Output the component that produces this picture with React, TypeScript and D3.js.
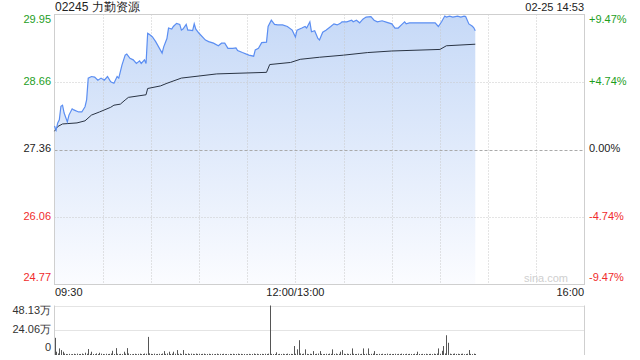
import React from "react";
import * as d3 from "d3";

// ---- data (minute index from 09:30, trading minutes; 12:00/13:00 = 150) ----
const title = "02245 力勤资源";
const stamp = "02-25 14:53";
const prevClose = 27.36;
const priceTicks = [29.95, 28.66, 27.36, 26.06, 24.77];
const pctTicks = ["+9.47%", "+4.74%", "0.00%", "-4.74%", "-9.47%"];
const timeTicks = ["09:30", "12:00/13:00", "16:00"];
const volTicks = ["48.13万", "24.06万", "0"];
const volTickValues = [48.13, 24.06, 0];

const priceMin = [0,1,2,3,4,5,6,8,9,11,12,15,17,19,20,21,23,25,27,29,31,33,35,37,39,40,42,44,45,47,49,51,53,54,56,57,58,59,61,63,67,68,70,71,73,74,76,78,79,80,82,83,84,86,87,88,90,94,96,99,102,104,106,108,111,113,114,117,121,124,125,127,129,132,133,135,137,139,142,145,148,150,151,154,156,157,159,160,162,164,165,167,169,172,174,176,178,179,182,185,186,188,190,192,194,197,199,201,204,207,210,212,214,216,218,219,221,228,237,239,241,243,244,246,248,251,253,255,256,258,260,261,262];
const prices = [27.81,27.73,27.87,27.93,28.19,28.21,28.06,27.89,28.02,28.14,28.12,28.08,28.08,28.18,28.31,28.73,28.76,28.75,28.69,28.73,28.69,28.76,28.66,28.63,28.76,28.73,28.98,29.17,29.19,29.11,29.08,29.01,29.06,29.01,29.08,29.01,29.59,29.57,29.52,29.43,29.21,29.33,29.49,29.69,29.67,29.72,29.78,29.76,29.65,29.67,29.76,29.65,29.65,29.64,29.77,29.67,29.59,29.46,29.43,29.40,29.35,29.40,29.40,29.30,29.30,29.31,29.26,29.22,29.17,29.15,29.27,29.30,29.41,29.42,29.72,29.84,29.76,29.75,29.75,29.72,29.65,29.52,29.65,29.69,29.72,29.69,29.81,29.62,29.64,29.49,29.46,29.61,29.65,29.72,29.77,29.75,29.78,29.81,29.81,29.84,29.81,29.84,29.79,29.86,29.90,29.91,29.84,29.81,29.83,29.80,29.77,29.69,29.69,29.75,29.81,29.77,29.79,29.79,29.79,29.72,29.81,29.92,29.90,29.92,29.90,29.92,29.90,29.92,29.91,29.77,29.73,29.70,29.64];

const avgMin = [0,2,5,14,19,23,28,35,37,41,44,46,57,58,66,70,79,90,101,132,134,147,153,165,180,195,210,240,244,262];
const avgPrices = [27.71,27.80,27.85,27.87,27.91,28.02,28.08,28.17,28.21,28.23,28.31,28.36,28.41,28.53,28.58,28.63,28.73,28.77,28.81,28.84,28.99,29.03,29.09,29.13,29.17,29.22,29.25,29.28,29.35,29.38];

const volumes = [
  16.7,3.2,1.5,6.4,4.8,3.2,1.4,1.0,0.8,1.1,
  0.7,0.9,1.2,0.8,1.3,0.9,1.0,1.4,0.8,2.2,
  1.2,5.8,1.1,3.2,1.0,0.8,1.5,0.9,2.2,1.3,
  1.0,0.7,1.2,0.9,1.1,1.4,4.1,1.0,6.7,1.2,
  0.8,1.1,0.9,3.2,1.3,6.7,1.5,0.9,0.7,1.0,
  1.2,0.8,1.1,1.3,0.9,1.0,1.4,1.2,17.6,1.6,
  1.1,0.9,1.3,0.8,1.0,1.2,0.9,1.4,3.8,1.1,
  1.5,3.2,1.0,1.3,3.2,1.2,4.8,1.1,1.4,0.9,
  4.8,1.2,1.0,1.5,0.9,1.3,1.1,0.8,1.4,1.0,
  1.2,0.9,1.1,1.3,0.8,1.0,1.2,0.9,1.1,0.7,
  1.0,1.3,0.8,1.1,0.9,1.2,0.8,1.0,0.7,1.1,
  0.9,1.2,0.8,1.0,1.3,0.9,1.1,0.8,1.0,0.7,
  0.9,1.1,0.8,1.0,1.4,0.9,1.2,0.8,1.0,1.1,
  0.9,1.2,1.0,1.3,48.13,1.1,0.9,1.0,2.6,0.8,
  1.1,0.9,1.2,0.8,1.0,1.3,0.9,1.1,1.0,8.7,
  1.2,5.5,14.4,1.5,1.0,1.3,5.5,1.1,0.9,1.2,
  1.0,3.8,0.9,1.2,1.4,3.8,1.1,0.8,1.0,1.2,
  0.9,1.3,1.1,5.5,1.0,1.4,0.8,1.1,3.2,4.8,
  1.2,0.9,1.3,1.0,1.1,6.4,1.2,0.9,1.0,1.3,
  0.8,1.1,6.4,1.0,1.2,6.4,0.9,1.1,1.3,3.8,
  1.0,0.8,1.1,0.9,1.2,0.7,1.0,1.3,0.8,1.1,
  0.9,1.0,1.2,0.8,1.1,0.9,1.3,1.0,0.8,1.2,
  0.9,1.1,1.0,0.8,1.2,0.9,3.2,1.0,0.8,1.1,
  0.9,1.2,0.8,1.0,1.1,0.9,1.3,1.0,1.4,6.4,
  1.2,4.1,8.7,1.5,19.2,11.9,1.3,0.8,1.1,1.4,
  1.0,1.2,0.9,1.1,1.3,0.8,1.0,1.2,4.8,1.1,
  0.9,1.3,1.0
];

const TOTAL_MIN = 330;
const GREEN = "#1e9e1e";
const RED = "#f02c2c";
const FONT = "'Liberation Sans', Arial, sans-serif";

export default function App() {
  const L = 54.5, R = 584.5, T = 14.5, B = 284.5;
  const VT = 305.5, VB = 355;
  const x = d3.scaleLinear().domain([0, TOTAL_MIN]).range([L, R]);
  const y = d3.scaleLinear().domain([24.77, 29.95]).range([B, T]);
  const yv = d3.scaleLinear().domain([0, 48.13]).range([VB, VT]);

  const pts = priceMin.map((m, i) => [m, prices[i]] as [number, number]);
  const avgPts = avgMin.map((m, i) => [m, avgPrices[i]] as [number, number]);
  const line = d3.line<[number, number]>().x(d => x(d[0])).y(d => y(d[1]));
  const area = d3.area<[number, number]>().x(d => x(d[0])).y0(B).y1(d => y(d[1]));

  const vGrid = d3.range(1, 11).map(i => i * 30);
  const colorFor = (i: number) => (i < 2 ? GREEN : i === 2 ? "#222" : RED);
  const labelY = (i: number, v: number) => (i === 0 ? y(v) + 6 : i === 4 ? y(v) - 6 : y(v));

  return (
    <svg width={640} height={360} style={{ position: "absolute", left: 0, top: 0, background: "#fff" }} fontFamily={FONT}>
      <defs>
        <linearGradient id="fillG" gradientUnits="userSpaceOnUse" x1={0} y1={T} x2={0} y2={B}>
          <stop offset="0%" stopColor="#c6d9f7" />
          <stop offset="100%" stopColor="#fbfcff" />
        </linearGradient>
      </defs>
      <text x={55} y={8} fontSize={12} fill="#222" dominantBaseline="middle">{title}</text>
      <text x={584} y={8} fontSize={11} fill="#222" textAnchor="end" dominantBaseline="middle">{stamp}</text>

      {/* area + grid */}
      <path d={area(pts) || ""} fill="url(#fillG)" />
      {vGrid.map(m => (
        <line key={m} x1={Math.round(x(m)) + 0.5} x2={Math.round(x(m)) + 0.5} y1={T} y2={B} stroke="#c8c8c8" strokeDasharray="1,2" />
      ))}
      {priceTicks.slice(1, 4).map(v => (
        <line key={v} x1={L} x2={R} y1={Math.round(y(v)) + 0.5} y2={Math.round(y(v)) + 0.5}
          stroke={v === prevClose ? "#aaa" : "#c8c8c8"} strokeDasharray={v === prevClose ? "3,2" : "1,2"} />
      ))}
      <rect x={L} y={T} width={R - L} height={B - T} fill="none" stroke="#cfcfcf" />
      <text x={568} y={279} fontSize={11} fill="#cfcfcf" textAnchor="end" dominantBaseline="middle">sina.com</text>

      <path d={line(avgPts) || ""} fill="none" stroke="#2a3444" strokeWidth={1} />
      <path d={line(pts) || ""} fill="none" stroke="#5b8ef2" strokeWidth={1.2} />

      {priceTicks.map((v, i) => (
        <text key={v} x={51} y={labelY(i, v)} fontSize={11} fill={colorFor(i)} textAnchor="end" dominantBaseline="middle">{v.toFixed(2)}</text>
      ))}
      {pctTicks.map((t, i) => (
        <text key={t} x={589} y={labelY(i, priceTicks[i])} fontSize={11} fill={colorFor(i)} dominantBaseline="middle">{t}</text>
      ))}

      <text x={55} y={293} fontSize={11} fill="#222" dominantBaseline="middle">{timeTicks[0]}</text>
      <text x={x(150)} y={293} fontSize={11} fill="#222" textAnchor="middle" dominantBaseline="middle">{timeTicks[1]}</text>
      <text x={584} y={293} fontSize={11} fill="#222" textAnchor="end" dominantBaseline="middle">{timeTicks[2]}</text>

      {/* volume */}
      {volTickValues.slice(0, 2).map(v => (
        <line key={v} x1={L} x2={R} y1={Math.round(yv(v)) + 0.5} y2={Math.round(yv(v)) + 0.5} stroke="#c8c8c8" strokeDasharray="1,1" />
      ))}
      <line x1={L} x2={L} y1={VT} y2={VB} stroke="#cfcfcf" />
      <line x1={R} x2={R} y1={VT} y2={VB} stroke="#cfcfcf" />
      {volumes.map((v, i) => (
        <rect key={i} x={Math.round(x(i))} y={yv(v)} width={1} height={VB - yv(v)} fill="#555" />
      ))}
      {volTicks.map((t, i) => (
        <text key={t} x={51} y={i === 0 ? yv(volTickValues[i]) + 6 : i === 2 ? 348 : yv(volTickValues[i])} fontSize={11} fill="#333" textAnchor="end" dominantBaseline="middle">{t}</text>
      ))}
    </svg>
  );
}
